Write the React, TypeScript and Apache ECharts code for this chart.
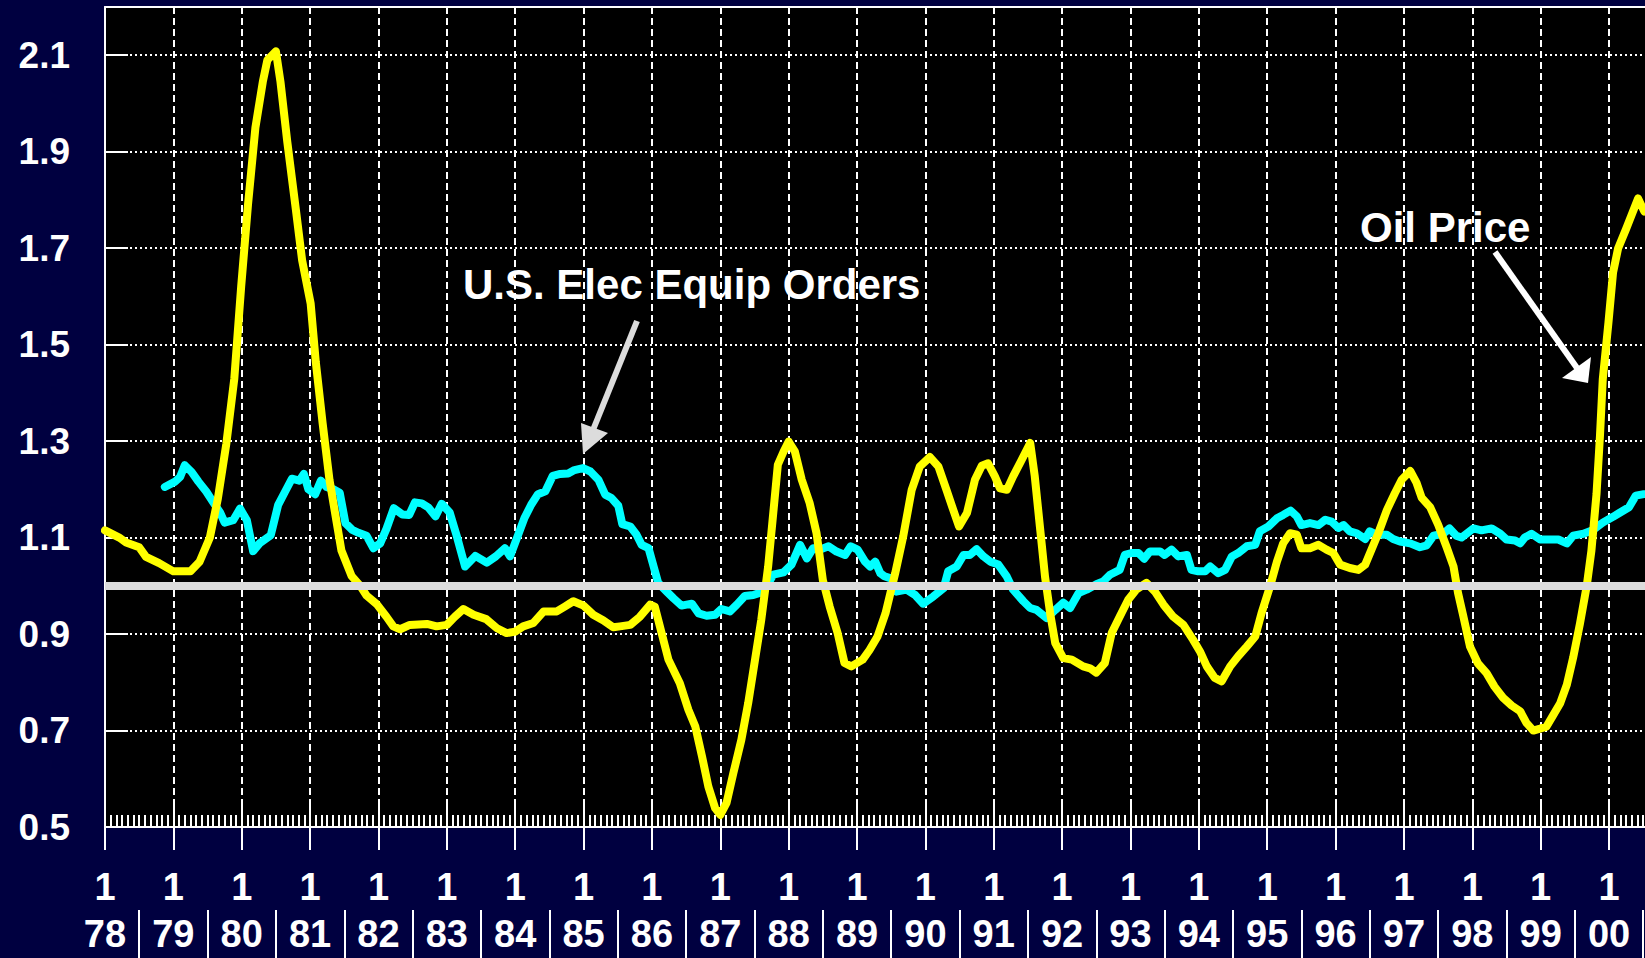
import React, { useEffect, useRef } from "react";
import * as echarts from "echarts";

// x positions are months since January 1978
const startYear = 1978;
const lastMonth = 276; // axis extent (Jan 2001), plot is cut at the page edge
const lastLabelMonth = 264; // Jan 2000, last year label shown
const baseline = 1.0;

const oilMonth = [
  0, 2.5, 3.7, 6, 7.2, 9.5, 12, 15, 16.6, 18.4, 19.8, 21.3, 22.7, 23.9, 25.1, 26.4, 27.7, 28.5, 30, 30.8,
  32, 33.5, 34.6, 36.1, 37, 38.2, 39.4, 40.6, 41.5, 43.3, 44.8, 45.9, 47.7, 49.4, 50.6, 51.8, 53.5, 56.5, 58.2, 60,
  61.4, 62.9, 64.7, 66.9, 68.8, 70.5, 72, 73.4, 75.2, 77, 79.3, 80.7, 82.2, 84, 85.7, 87.5, 89.2, 90.4, 92.2, 93.9,
  95.7, 96.5, 97.7, 98.9, 100.9, 102.4, 103.6, 104.8, 105.9, 107.1, 108, 109.1, 110.3, 111.7, 112.9, 114.1, 115.2, 116.4, 117.3, 118.1,
  119.1, 120, 121.1, 122.3, 123.7, 124.9, 126, 127.2, 128.6, 129.8, 131, 133, 134.2, 135.6, 137, 138.7, 140.1, 141.6, 143, 144.8,
  146.3, 147.7, 148.9, 149.9, 151.3, 152.7, 153.9, 155, 156.2, 157.1, 158.3, 159.4, 160.9, 162.4, 163.2, 164.1, 165, 165.9, 166.8, 168.2,
  169.7, 171.7, 172.9, 174, 175.5, 176.7, 178.1, 179.6, 181, 182.8, 184.3, 185.8, 187.5, 189.3, 191, 192.2, 193.4, 194.8, 196, 197.5,
  198.9, 200.4, 201.9, 203, 204.5, 205.7, 206.8, 208, 209.2, 210, 211.5, 213, 214.4, 215.6, 216.8, 218.5, 220, 221.2, 222.3, 223.5,
  225, 226.4, 227.6, 229.1, 230.2, 231.1, 232.6, 234, 235.5, 236.7, 237.5, 238.4, 239.6, 241, 242.5, 243.9, 245.4, 246.9, 248.4, 249.5,
  250.7, 251.9, 253, 254.2, 255.4, 256.6, 257.7, 258.9, 260.1, 260.9, 261.8, 262.4, 262.9, 263.9, 264.7, 265.6, 267, 268.2, 269.1, 270.2,
];
const oilValue = [
  1.115, 1.1, 1.09, 1.08, 1.06, 1.047, 1.03, 1.03, 1.05, 1.1, 1.18, 1.295, 1.43, 1.62, 1.79, 1.95, 2.045, 2.09, 2.108, 2.045,
  1.92, 1.78, 1.675, 1.585, 1.464, 1.337, 1.22, 1.136, 1.073, 1.02, 1.0, 0.98, 0.962, 0.936, 0.916, 0.91, 0.919, 0.921, 0.916, 0.919,
  0.936, 0.952, 0.94, 0.931, 0.912, 0.902, 0.905, 0.916, 0.923, 0.947, 0.947, 0.957, 0.968, 0.959, 0.94, 0.928, 0.914, 0.916, 0.919, 0.936,
  0.961, 0.957, 0.902, 0.847, 0.798, 0.743, 0.709, 0.646, 0.584, 0.539, 0.525, 0.55, 0.612, 0.681, 0.757, 0.847, 0.93, 1.04, 1.151, 1.251,
  1.278, 1.299, 1.278, 1.22, 1.171, 1.109, 1.012, 0.957, 0.902, 0.84, 0.833, 0.847, 0.867, 0.895, 0.943, 1.026, 1.102, 1.199, 1.247, 1.267,
  1.247, 1.199, 1.157, 1.123, 1.151, 1.22, 1.249, 1.254, 1.227, 1.202, 1.199, 1.227, 1.261, 1.296, 1.227, 1.123, 1.019, 0.943, 0.881, 0.85,
  0.847, 0.833, 0.829, 0.82, 0.84, 0.902, 0.936, 0.971, 0.992, 1.006, 0.988, 0.961, 0.936, 0.919, 0.888, 0.864, 0.833, 0.809, 0.802, 0.833,
  0.854, 0.874, 0.895, 0.943, 0.999, 1.05, 1.088, 1.109, 1.106, 1.078, 1.078, 1.085, 1.075, 1.068, 1.044, 1.037, 1.033, 1.044, 1.075, 1.109,
  1.157, 1.192, 1.22, 1.238, 1.214, 1.183, 1.163, 1.127, 1.08, 1.04, 0.985, 0.938, 0.874, 0.839, 0.819, 0.791, 0.768, 0.752, 0.74, 0.716,
  0.7, 0.704, 0.708, 0.732, 0.756, 0.795, 0.851, 0.922, 1.001, 1.072, 1.19, 1.309, 1.428, 1.546, 1.649, 1.7, 1.74, 1.776, 1.803, 1.776,
];

const elecMonth = [
  10.5, 12.3, 13.2, 14, 15.2, 16.4, 17.8, 19, 20.2, 21, 22.5, 23.7, 24.9, 26, 27.2, 29.1, 30.4, 31.6, 32.8, 34.1,
  34.9, 35.7, 36.9, 37.9, 38.9, 40.1, 41.2, 42.2, 43.4, 44.5, 45.9, 47.1, 48.3, 49.4, 50.7, 52.2, 53.4, 54.4, 55.6, 56.8,
  58, 59.1, 60.5, 61.7, 63.2, 65, 67, 68.6, 70.2, 71.1, 72.5, 73.6, 74.8, 76, 77.3, 78.6, 79.9, 81.3, 82.4, 83.9,
  85.2, 86.6, 87.8, 88.9, 90.1, 90.8, 92.2, 93.3, 94.2, 95.4, 96.3, 97.1, 98.6, 99.8, 101.2, 103, 104.2, 105.6, 107.1, 108.2,
  109.7, 110.9, 112.3, 113.8, 115.6, 117.3, 119.1, 120.5, 122, 123.2, 124.3, 125.5, 127, 128.4, 129.9, 130.9, 132.1, 133.4, 134.3, 135.2,
  136.1, 136.8, 137.8, 138.9, 140.7, 142.2, 143.6, 145.4, 147.2, 148, 149.5, 150.7, 151.8, 153, 154.2, 155.4, 156.8, 158.3, 159.4, 161.2,
  162.4, 163.5, 165.3, 166.8, 168.2, 169.4, 170.9, 172.3, 174.1, 175.2, 176.4, 178.1, 179, 180.2, 181.4, 182.4, 183.4, 185.2, 186, 187.2,
  188.4, 189.9, 190.7, 191.9, 193.1, 194, 195.4, 196.6, 197.8, 198.9, 200.4, 201.9, 202.7, 204.2, 205.7, 206.8, 208.1, 209.2, 210, 211.5,
  213, 214.2, 215.3, 216.5, 217.4, 218.5, 219.7, 221.2, 222, 223.2, 225, 226.1, 227.3, 229.1, 230.8, 232, 233.2, 234.9, 236, 237.2,
  238.1, 240.2, 241.6, 243.4, 244.9, 246, 247.5, 248.4, 249.2, 250.4, 251.9, 253.3, 255.1, 256.6, 257.7, 259.5, 261.1, 262.9, 264.7, 265.8,
  267.5, 268.7, 270.1,
];
const elecValue = [
  1.205, 1.216, 1.226, 1.25, 1.236, 1.216, 1.195, 1.173, 1.152, 1.131, 1.136, 1.16, 1.136, 1.072, 1.089, 1.105, 1.168, 1.195, 1.222, 1.218,
  1.232, 1.2, 1.19, 1.218, 1.205, 1.2, 1.193, 1.13, 1.116, 1.11, 1.104, 1.078, 1.088, 1.118, 1.161, 1.148, 1.147, 1.173, 1.171, 1.162,
  1.144, 1.17, 1.152, 1.105, 1.04, 1.062, 1.048, 1.061, 1.078, 1.061, 1.105, 1.14, 1.168, 1.19, 1.196, 1.228, 1.232, 1.233, 1.24, 1.244,
  1.237, 1.22, 1.189, 1.182, 1.166, 1.128, 1.123, 1.106, 1.085, 1.078, 1.04, 1.006, 0.988, 0.974, 0.959, 0.963, 0.943, 0.938, 0.94, 0.952,
  0.947, 0.961, 0.979, 0.981, 0.988, 1.023, 1.028, 1.044, 1.085, 1.057, 1.078, 1.075, 1.082, 1.071, 1.064, 1.082, 1.075, 1.05, 1.04, 1.05,
  1.026, 1.02, 1.016, 0.988, 0.992, 0.981, 0.963, 0.978, 0.995, 1.03, 1.04, 1.064, 1.064, 1.076, 1.061, 1.05, 1.044, 1.019, 0.992, 0.968,
  0.954, 0.95, 0.933, 0.95, 0.965, 0.954, 0.985, 0.992, 1.004, 1.009, 1.023, 1.033, 1.064, 1.068, 1.068, 1.056, 1.071, 1.071, 1.064, 1.075,
  1.061, 1.064, 1.033, 1.03, 1.03, 1.04, 1.026, 1.033, 1.061, 1.068, 1.082, 1.085, 1.113, 1.123, 1.14, 1.147, 1.156, 1.144, 1.126, 1.13,
  1.126, 1.137, 1.133, 1.12, 1.126, 1.113, 1.109, 1.097, 1.113, 1.106, 1.106, 1.097, 1.092, 1.088, 1.08, 1.084, 1.104, 1.108, 1.119, 1.104,
  1.1, 1.119, 1.115, 1.119, 1.108, 1.096, 1.094, 1.088, 1.1, 1.108, 1.096, 1.096, 1.096, 1.088, 1.104, 1.108, 1.115, 1.131, 1.143, 1.151,
  1.163, 1.187, 1.19,
];

const Y_MIN = 0.5; // bottom of the value axis
const FONT = '"Liberation Sans", Arial, Helvetica, sans-serif';

export default function App() {
  const ref = useRef<HTMLDivElement>(null);

  useEffect(() => {
    if (!ref.current) return;
    const chart = echarts.init(ref.current, undefined, { renderer: "svg" });

    const monthCats = Array.from({ length: lastMonth + 1 }, (_, i) => String(i));
    const yearLabel = (v: number) => {
      if (Math.abs(v % 12) > 1e-6 || v > lastLabelMonth) return "";
      const yy = (startYear + v / 12) % 100;
      return `{a|1}\n{b|${String(yy).padStart(2, "0")}}`;
    };

    const white = "#ffffff";
    const option: any = {
      animation: false,
      backgroundColor: "#000040",
      textStyle: { fontFamily: FONT },
      grid: {
        left: 105,
        top: 7,
        width: 1572.4,
        height: 820,
        containLabel: false,
        outerBoundsMode: "none",
        show: true,
        backgroundColor: "#000000",
        borderWidth: 0,
      },
      xAxis: [
        {
          type: "value",
          min: 0,
          max: lastMonth,
          interval: 12,
          position: "bottom",
          axisLine: { show: true, lineStyle: { color: white, width: 2 } },
          axisTick: { show: true, inside: false, length: 23, lineStyle: { color: white, width: 2 } },
          axisLabel: {
            show: true,
            margin: 36,
            color: white,
            formatter: yearLabel,
            rich: {
              a: { color: white, fontSize: 38, fontWeight: "bold", lineHeight: 47, fontFamily: FONT },
              b: { color: white, fontSize: 38, fontWeight: "bold", lineHeight: 47, fontFamily: FONT },
            },
          },
          splitLine: { show: true, lineStyle: { color: white, width: 2, type: [7, 4] } },
        },
        {
          type: "value",
          min: 0,
          max: lastMonth,
          interval: 12,
          position: "bottom",
          axisLine: { show: false },
          axisTick: { show: true, inside: true, length: 25, lineStyle: { color: white, width: 2 } },
          minorTick: { show: true, splitNumber: 12, length: 12, lineStyle: { color: white, width: 2 } },
          axisLabel: { show: false },
          splitLine: { show: false },
        },
        {
          type: "category",
          data: monthCats,
          boundaryGap: false,
          position: "bottom",
          offset: 83,
          axisLine: { show: false },
          axisTick: {
            show: true,
            inside: false,
            length: 52,
            interval: (i: number) => i % 12 === 6,
            lineStyle: { color: white, width: 2 },
          },
          axisLabel: { show: false },
          splitLine: { show: false },
        },
        {
          type: "value",
          min: 0,
          max: lastMonth,
          position: "top",
          axisLine: { show: true, lineStyle: { color: white, width: 2 } },
          axisTick: { show: false },
          axisLabel: { show: false },
          splitLine: { show: false },
        },
      ],
      yAxis: {
        type: "value",
        min: 0,
        max: 2.2 - Y_MIN,
        interval: 0.2,
        axisLine: { show: true, lineStyle: { color: white, width: 2 } },
        axisTick: { show: true, inside: true, length: 23, lineStyle: { color: white, width: 2 } },
        axisLabel: {
          color: white,
          fontSize: 37,
          fontWeight: "bold",
          fontFamily: FONT,
          margin: 35,
          showMaxLabel: false,
          formatter: (v: number) => (v + Y_MIN).toFixed(1),
        },
        splitLine: { show: true, lineStyle: { color: white, width: 2, type: [2, 3] } },
      },
      series: [
        {
          name: "U.S. Elec Equip Orders",
          type: "line",
          xAxisIndex: 0,
          yAxisIndex: 0,
          data: elecMonth.map((m, i) => [m, elecValue[i] - Y_MIN]),
          symbol: "none",
          lineStyle: { color: "#00ffff", width: 8, join: "round", cap: "round" },
          z: 3,
        },
        {
          name: "Oil Price",
          type: "line",
          xAxisIndex: 0,
          yAxisIndex: 0,
          data: oilMonth.map((m, i) => [m, oilValue[i] - Y_MIN]),
          symbol: "none",
          lineStyle: { color: "#ffff00", width: 8, join: "round", cap: "round" },
          z: 4,
          markLine: {
            silent: true,
            symbol: ["none", "none"],
            label: { show: false },
            lineStyle: { color: "#dcdcdc", width: 8, type: "solid" },
            data: [{ yAxis: baseline - Y_MIN }],
            z: 5,
          },
        },
      ],
      graphic: [
        {
          type: "text",
          x: 463,
          y: 284,
          z: 20,
          style: {
            text: "U.S. Elec Equip Orders",
            fill: white,
            font: `bold 42px ${FONT}`,
            align: "left",
            verticalAlign: "middle",
          },
        },
        {
          type: "line",
          z: 20,
          shape: { x1: 637, y1: 321, x2: 593, y2: 430 },
          style: { stroke: "#dcdcdc", lineWidth: 6 },
        },
        {
          type: "polygon",
          z: 20,
          shape: { points: [[583, 454], [581, 423], [608, 433]] },
          style: { fill: "#dcdcdc" },
        },
        {
          type: "text",
          x: 1360,
          y: 227,
          z: 20,
          style: {
            text: "Oil Price",
            fill: white,
            font: `bold 42px ${FONT}`,
            align: "left",
            verticalAlign: "middle",
          },
        },
        {
          type: "line",
          z: 20,
          shape: { x1: 1495, y1: 252, x2: 1577, y2: 368 },
          style: { stroke: white, lineWidth: 6 },
        },
        {
          type: "polygon",
          z: 20,
          shape: { points: [[1588, 383], [1562, 378], [1591, 357]] },
          style: { fill: white },
        },
      ],
    };

    chart.setOption(option);
    return () => chart.dispose();
  }, []);

  return (
    <div
      ref={ref}
      style={{ position: "absolute", left: 0, top: 0, width: 1645, height: 958 }}
    />
  );
}
